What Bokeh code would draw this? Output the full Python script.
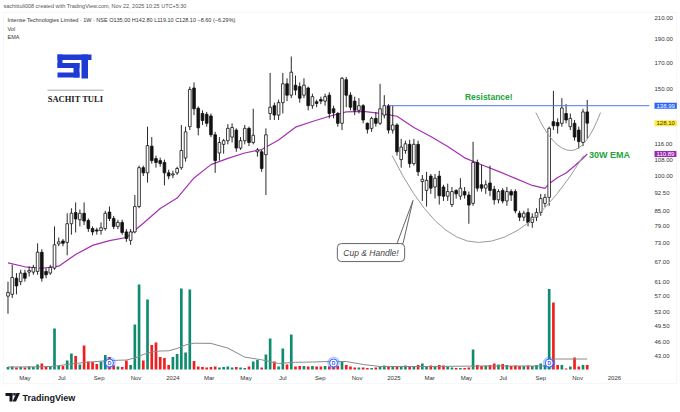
import pandas as pd
from bokeh.plotting import figure
from bokeh.models import (Range1d, LinearScale, FixedTicker, PrintfTickFormatter,
                          Label, BoxAnnotation, PolyAnnotation)
from bokeh.embed import file_html
from bokeh.resources import INLINE
from bokeh.core.properties import value

# ---------------- data ----------------
first_week = "2023-04-03"
opens = [57, 57.5, 62, 61, 63.5, 63.8, 63.8, 64, 70, 64, 63.5, 65, 72.8, 73.8, 73.3, 80, 84.3, 81.5, 84, 81.2,
         78.2, 77.7, 77.5, 78.2, 84.5, 82, 79, 80.5, 77, 74, 77, 86.7, 104, 101.5, 115, 108.5, 107.5, 106.6, 101.5, 100.5,
         101.5, 104, 108.8, 126, 151, 137.3, 134, 133.5, 132.5, 121.3, 111.4, 116, 118, 120, 124, 114, 118, 125, 117, 112,
         112, 110.5, 134, 139, 133, 141, 154, 146, 153, 152, 146, 151, 139, 141.5, 143, 142, 146, 137, 134, 128,
         157, 146, 142, 136, 139, 128, 125, 131, 128, 133, 139, 124, 127, 108, 112.7, 116, 106, 116, 97.5, 93.5,
         100, 95, 100, 95, 91, 87.5, 93.5, 91, 93, 91.5, 88, 106.6, 96, 94.5, 96.8, 94, 89.5, 93.5, 89, 93,
         93, 84, 82.5, 84.3, 80.5, 82.5, 84.3, 88, 90.5, 129, 128.5, 128, 134, 126, 128, 124, 117, 135]
highs = [61, 66, 63.5, 64.5, 64.5, 65.5, 66, 73, 71, 65, 66, 79, 75, 74.5, 84, 86, 88.4, 85.5, 88.4, 82,
         79, 78.5, 80.5, 85, 86.7, 83, 81.5, 81.5, 78, 78, 91.5, 105, 105, 126, 120, 110, 109, 108, 103, 102.5,
         104.5, 127, 126, 152, 155, 138.5, 136, 135, 134, 123, 120, 119, 127.5, 128, 125, 120, 127, 126, 137, 114,
         113, 125, 162, 141, 143, 162, 158, 175, 160, 155, 158, 152, 147, 143, 145, 147, 148, 139, 135, 159,
         159, 148, 145, 144, 140, 128.5, 132, 135, 154, 146, 140, 139, 128, 119, 118, 118.5, 119, 118, 100.5, 102,
         101, 101, 102.5, 96, 96.5, 95, 94, 99, 95, 93, 117.4, 108, 105.5, 98, 105, 95.5, 94, 94.5, 95, 94,
         94, 85, 85, 86, 84, 86, 92, 92, 126, 149, 131, 144, 140, 134, 130, 126, 137, 142.8]
lows = [52.5, 56.5, 57.5, 60, 61, 62.5, 63, 63, 61, 62, 63, 64.5, 72, 72, 69, 76, 76.8, 79, 79.5, 77,
        75.8, 76, 76, 77.5, 81, 78, 78, 76, 73.5, 72.5, 76.5, 86, 100, 97, 106, 104, 104.5, 95.7, 98.5, 99,
        100.5, 103, 107, 124, 133, 121, 127, 126, 120, 101.5, 107.5, 111, 116, 117, 112, 113, 116, 115, 116, 109.5,
        102, 91.5, 130, 130, 130, 134, 142, 144, 146, 141, 144, 136, 137, 138, 140, 139, 131, 131, 126, 124,
        138, 136, 133, 134, 128, 122, 123, 126, 127, 131, 122, 122, 110, 104, 111, 104, 105, 100, 89, 86.7,
        92, 90, 87.5, 89, 89, 86.5, 90, 89.5, 90, 80, 87, 93, 93, 92, 91, 87.5, 88, 88, 87, 89,
        84, 81, 81, 79, 78.5, 81, 83, 86.5, 87, 124, 122, 126, 128, 124, 118, 113.7, 115, 119.1]
closes = [58, 62.2, 59.8, 63.5, 62, 64.3, 65.2, 70, 62, 63, 65.2, 72.5, 73.5, 73, 80, 84, 81.8, 84, 81, 78.2,
          77, 77.3, 78.5, 84, 82, 79, 80.5, 76.8, 74.7, 77, 86.7, 104, 101.5, 115.3, 107.5, 106.6, 106, 101.5, 100, 101,
          103.6, 112.7, 123, 150, 137, 125.3, 129.7, 128, 121.3, 107.5, 117, 118, 125, 125.5, 114, 118, 125, 117, 121, 113,
          103.6, 121.3, 138, 133, 141, 154, 146, 162.6, 149.5, 144, 153, 139, 145, 140.5, 142, 145, 134, 134.5, 128, 158,
          146, 138, 136, 139, 130, 124.5, 131, 128, 137, 139, 124, 127, 112, 114.5, 116.3, 106, 116, 102, 98.5, 98,
          94.5, 99, 91.2, 91, 93, 93, 92, 94.5, 91.5, 87.3, 106.6, 94.5, 94.5, 96, 93.5, 89.5, 93, 89, 93, 91.5,
          85, 82.5, 84, 80.5, 82.5, 84.3, 90, 90.5, 125, 126.5, 126.5, 137.5, 130, 131, 120, 117.5, 135, 128.1]
volumes = [0.25, 0.3, 0.2, 0.25, 0.2, 0.3, 0.25, 0.5, 0.6, 0.3, 0.3, 4.1, 0.35, 0.35, 0.9, 1.6, 1.35, 0.5, 2.4, 0.8,
           0.75, 0.55, 0.8, 1.45, 1.25, 0.4, 0.3, 0.25, 0.9, 0.45, 4.5, 8.5, 0.9, 7.0, 2.45, 2.7, 1.25, 1.15, 0.45, 1.25,
           1.55, 8.1, 1.7, 8.0, 0.85, 0.3, 0.25, 0.2, 0.25, 0.3, 0.2, 0.25, 0.3, 0.2, 0.25, 0.2, 0.15, 0.3, 0.8, 0.95,
           0.2, 1.5, 3.1, 0.8, 0.3, 2.1, 0.5, 3.5, 0.3, 0.35, 0.35, 0.3, 0.35, 0.3, 0.3, 0.35, 0.3, 0.4, 0.35, 0.75,
           0.45, 0.3, 0.2, 0.2, 0.2, 0.15, 0.15, 0.2, 0.3, 0.4, 0.35, 0.3, 0.35, 0.35, 0.4, 0.35, 0.35, 0.45, 0.6, 0.35,
           0.4, 0.35, 0.45, 0.4, 0.3, 0.2, 0.15, 0.15, 0.15, 0.2, 2.0, 0.45, 0.35, 0.4, 0.45, 0.6, 0.5, 0.55, 0.45, 0.35,
           0.4, 0.35, 0.35, 0.4, 0.35, 0.45, 0.6, 0.45, 8.05, 6.7, 0.45, 0.45, 0.1, 0.3, 1.2, 0.3, 0.45, 0.45]
ema_idx = [0, 4, 8, 12, 16, 20, 24, 28, 32, 36, 40, 44, 48, 52, 56, 60, 64, 68, 72, 76,
           80, 84, 88, 92, 96, 100, 104, 108, 112, 116, 120, 124, 127, 128, 130, 132, 134, 136, 137]
ema_vals = [66.6, 65.4, 64.95, 65.6, 69.3, 72.3, 73.9, 75.0, 80.2, 85.9, 90.2, 99.1, 105.5, 108.6, 111.4, 113.2,
            118.4, 125.7, 129.1, 132.3, 135.0, 135.3, 134.1, 132.3, 125.5, 120.3, 114.8, 108.9, 105.4, 102.2, 98.9,
            95.7, 94.4, 96.5, 99.3, 101.4, 104.8, 108.7, 110.89]
volma_idx = [0, 8, 11, 14, 18, 24, 28, 30, 32, 34, 36, 38, 40, 42, 44, 48, 52, 56, 60, 64,
             68, 72, 76, 80, 84, 88, 100, 112, 127, 128, 129, 137]
volma_vals = [0.25, 0.27, 0.33, 0.5, 0.7, 0.9, 0.95, 1.15, 1.5, 1.75, 1.85, 1.87, 2.1, 2.45, 2.63, 2.61,
              2.14, 1.24, 0.97, 0.6, 0.72, 0.75, 0.8, 0.8, 0.5, 0.3, 0.3, 0.35, 0.35, 0.7, 1.05, 1.05]
dividend_idx = [24, 77, 128]
month_ticks = ["2023-05-01", "2023-07-01", "2023-09-01", "2023-11-01", "2024-01-01", "2024-03-01",
               "2024-05-01", "2024-07-01", "2024-09-01", "2024-11-01", "2025-01-01", "2025-03-01",
               "2025-05-01", "2025-07-01", "2025-09-01", "2025-11-01", "2026-01-01"]
month_labels = ["May", "Jul", "Sep", "Nov", "2024", "Mar", "May", "Jul", "Sep", "Nov", "2025", "Mar",
                "May", "Jul", "Sep", "Nov", "2026"]
price_ticks = [43, 46, 49.5, 53, 57, 61, 67, 73, 79, 85, 92.5, 100, 108, 116, 150, 170, 190, 210]
resistance = 138.99
last_close = 128.10
last_ema = 110.89
resistance_from = 90

# ---------------- figure ----------------
T = pd.Timestamp
dates = pd.date_range(first_week, periods=len(closes), freq="7D")
x_start = T("2023-03-21 14:00")
x_end = T("2026-04-20 10:00")
resistance_to = T("2026-02-28")
DAY = 86400000

p = figure(width=680, height=412, x_axis_type="datetime", y_axis_type="log",
           y_axis_location="right", x_range=Range1d(x_start, x_end),
           y_range=Range1d(33.07, 227.4), output_backend="svg", toolbar_location=None,
           min_border_left=0, min_border_top=0, min_border_right=0, min_border_bottom=0,
           background_fill_color="white", border_fill_color="white")
p.extra_y_ranges = {"vol": Range1d(-4.3, 36.9)}
p.extra_y_scales = {"vol": LinearScale()}
p.grid.grid_line_color = None
p.outline_line_color = None

up = [c >= o for o, c in zip(opens, closes)]
vol_colors = ["#0f8b6f" if u else "#f41c1c" for u in up]

# chart border
p.add_layout(BoxAnnotation(left=3, right=676, bottom=29, top=400, left_units="screen",
                           right_units="screen", bottom_units="screen", top_units="screen",
                           fill_alpha=0, line_color="#e3e5ea", line_width=1))

# volume
p.vbar(x=dates, top=volumes, width=4.4 * DAY, fill_color=vol_colors, line_color=None,
       y_range_name="vol")
p.line(x=[dates[i] for i in volma_idx], y=volma_vals, line_color="#8a8a8a", line_width=1,
       y_range_name="vol")
div_x = [dates[i] for i in dividend_idx]
p.scatter(x=div_x, y=[0.65] * len(div_x), size=11, fill_color=None, line_color="#2962ff",
          line_alpha=0.35, line_width=1.5, y_range_name="vol")
p.scatter(x=div_x, y=[0.65] * len(div_x), size=8, fill_color="white", line_color="#2962ff",
          line_width=1, y_range_name="vol")
p.text(x=div_x, y=[0.65] * len(div_x), text=["D"] * len(div_x), text_align="center",
       text_baseline="middle", text_font_size="5px", text_color="#2962ff",
       text_font=value("Liberation Sans"), text_font_style="bold", y_range_name="vol")

# EMA
p.line(x=[dates[i] for i in ema_idx], y=ema_vals, line_color="#a431b3", line_width=1.2)

# candles
p.segment(x0=dates, y0=lows, x1=dates, y1=highs, line_color="#111111", line_width=0.9)
p.vbar(x=dates, width=4.4 * DAY, top=[max(o, c) for o, c in zip(opens, closes)],
       bottom=[min(o, c) for o, c in zip(opens, closes)],
       fill_color=["white" if u else "#111111" for u in up], line_color="#111111", line_width=0.8)

# resistance
p.segment(x0=[dates[resistance_from]], y0=[resistance], x1=[resistance_to], y1=[resistance],
          line_color="#4f78e8", line_width=1)

# cup & handle arcs
p.quadratic(x0=[T("2024-12-29"), T("2025-05-21"), T("2025-08-24"), T("2025-10-21")],
            y0=[110.1, 73.3, 134.6, 112.7],
            x1=[T("2025-05-21"), T("2025-11-11"), T("2025-10-21"), T("2025-12-09")],
            y1=[73.3, 110.1, 112.7, 134.6],
            cx=[T("2025-03-10"), T("2025-08-16"), T("2025-09-22"), T("2025-11-15")],
            cy=[73.3, 73.3, 112.7, 112.7],
            line_color="#9a9a9a", line_width=1)
p.patch(x=[T("2025-01-06"), T("2025-01-16"), T("2025-02-01 12:00")], y=[72.9, 72.9, 89.2],
        fill_color="white", line_color="#666666", line_width=1)


def ms(s):
    return T(s).value / 1e6


p.add_layout(Label(x=ms("2024-11-24"), y=69.9, text="Cup & Handle!", text_align="center",
                   text_baseline="middle", text_font_size="8.5px", text_font_style="italic",
                   text_font="Liberation Sans", text_color="#444444",
                   background_fill_color="white", border_line_color="#666666",
                   border_line_width=1, padding=(6, 4), border_radius=4))
p.add_layout(Label(x=ms("2025-06-07"), y=145.1, text="Resistance!", text_align="center",
                   text_baseline="middle", text_font_size="8.5px", text_font_style="bold",
                   text_font="Liberation Sans", text_color="#22a33a"))
p.add_layout(Label(x=ms("2025-11-20"), y=110.6, text="30W EMA", text_align="left",
                   text_baseline="middle", text_font_size="9px", text_font_style="bold",
                   text_font="Liberation Sans", text_color="#22a33a"))

# axes (labels drawn inside the frame, as on the price scale of the reference)
tick_ms = [int(T(d).value // 10**6) for d in month_ticks]
p.xaxis.ticker = FixedTicker(ticks=tick_ms, minor_ticks=[])
p.xaxis.major_label_overrides = {t: l for t, l in zip(tick_ms, month_labels)}
p.yaxis.ticker = FixedTicker(ticks=price_ticks, minor_ticks=[])
p.yaxis.formatter = PrintfTickFormatter(format="%.2f")
for ax in (p.xaxis[0], p.yaxis[0]):
    ax.axis_line_color = None
    ax.major_tick_line_color = None
    ax.minor_tick_line_color = None
    ax.major_tick_out = 0
    ax.major_tick_in = 0
    ax.major_label_text_font = "Liberation Sans"
    ax.major_label_text_font_size = "6px"
    ax.major_label_text_color = "#333333"
p.xaxis.major_label_standoff = -38
p.yaxis.major_label_standoff = -26

# price tags on the scale
for val, bg, fg in [(resistance, "#2962ff", "white"), (last_close, "#ffeb3b", "#333333"),
                    (last_ema, "#9c27b0", "white")]:
    p.add_layout(Label(x=654, x_units="screen", y=val, text=f"{val:.2f}", text_align="left",
                       text_baseline="middle", text_font_size="6px", text_font="Liberation Sans",
                       text_color=fg, background_fill_color=bg, padding=(2, 1)))

# header texts (screen units from the frame's bottom-left)
hdr = dict(x_units="screen", y_units="screen", text_baseline="middle", text_font="Liberation Sans",
           text_color="#333333")
p.add_layout(Label(x=3, y=406.5, text="sachittuli008 created with TradingView.com, Nov 22, 2025 10:25 UTC+5:30",
                   text_font_size="5.5px", **{**hdr, "text_color": "#555555"}))
p.add_layout(Label(x=7, y=392.5,
                   text="Intense Technologies Limited · 1W · NSE  O135.00 H142.80 L119.10 C128.10 −8.60 (−6.29%)",
                   text_font_size="5.5px", **hdr))
p.add_layout(Label(x=7, y=384, text="Vol", text_font_size="5.5px", **hdr))
p.add_layout(Label(x=7, y=376, text="EMA", text_font_size="5.5px", **hdr))

# logo
blue = "#1f3bd6"
for l, r, b, t in [(57, 91, 352.5, 358), (57, 62, 345, 358), (57, 79, 344.5, 349.5),
                   (73, 79, 335, 349.5), (57, 79, 335, 340), (81, 87.5, 334, 358)]:
    p.add_layout(BoxAnnotation(left=l, right=r, bottom=b, top=t, left_units="screen",
                               right_units="screen", bottom_units="screen", top_units="screen",
                               fill_color=blue, fill_alpha=1, line_color=None))
p.add_layout(BoxAnnotation(left=47, right=103, bottom=322, top=322.7, left_units="screen",
                           right_units="screen", bottom_units="screen", top_units="screen",
                           fill_color="#888888", fill_alpha=1, line_color=None))
p.add_layout(Label(x=75, y=313.5, x_units="screen", y_units="screen", text="SACHIT TULI",
                   text_align="center", text_baseline="middle", text_font="Liberation Serif",
                   text_font_style="bold", text_font_size="8.5px", text_color="#1a1a1a"))

# TradingView footer
for l, r, b, t in [(5, 12, 16.5, 19.5), (9, 12, 11, 19.5), (12.8, 15.2, 17, 19.5)]:
    p.add_layout(BoxAnnotation(left=l, right=r, bottom=b, top=t, left_units="screen",
                               right_units="screen", bottom_units="screen", top_units="screen",
                               fill_color="#131722", fill_alpha=1, line_color=None))
p.add_layout(PolyAnnotation(xs=[16, 19.5, 15.5, 12], ys=[19.5, 19.5, 11, 11], xs_units="screen",
                            ys_units="screen", fill_color="#131722", fill_alpha=1, line_color=None))
p.add_layout(Label(x=22, y=15, x_units="screen", y_units="screen", text="TradingView",
                   text_baseline="middle", text_font="Liberation Sans", text_font_style="bold",
                   text_font_size="9px", text_color="#131722"))

open("out.html", "w").write(file_html(p, INLINE))
